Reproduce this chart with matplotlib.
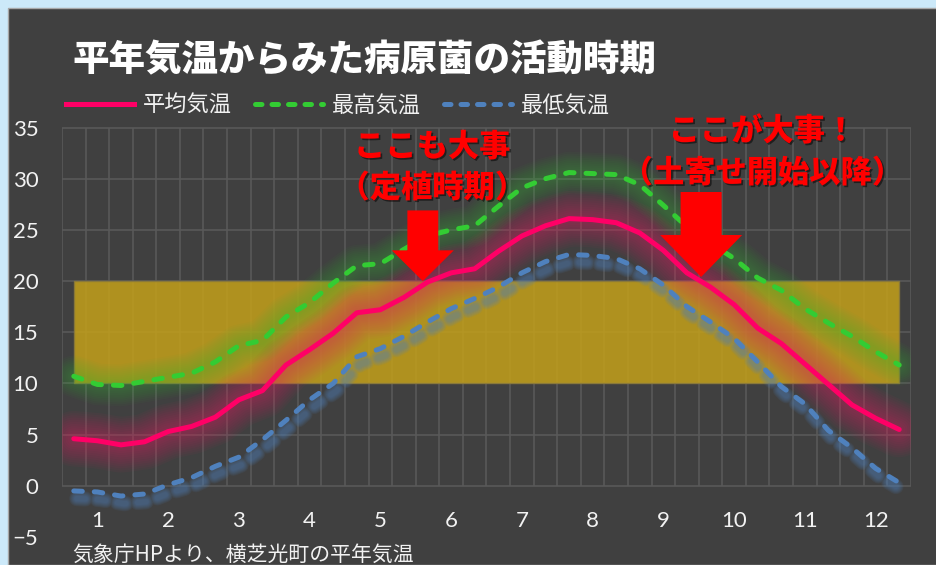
import matplotlib
matplotlib.use('Agg')
import matplotlib.pyplot as plt
import matplotlib.patches as mpatches
import matplotlib.patheffects as pe
from matplotlib.lines import Line2D
from matplotlib import transforms
import numpy as np

plt.rcParams['font.family'] = ['Noto Sans CJK JP', 'DejaVu Sans']

# 旬ごとの平年気温 (1月上旬 ～ 12月下旬, 36点)
avg_temp = [4.6, 4.4, 4.0, 4.3, 5.3, 5.8, 6.7, 8.4, 9.3, 11.8, 13.3, 14.9,
            16.9, 17.2, 18.4, 19.9, 20.8, 21.2, 22.9, 24.4, 25.4, 26.1, 26.0, 25.7,
            24.7, 23.0, 20.8, 19.4, 17.7, 15.4, 13.9, 11.9, 9.9, 7.9, 6.6, 5.5]
max_temp = [10.7, 9.9, 9.8, 10.2, 10.6, 11.0, 12.1, 13.7, 14.2, 16.5, 17.9, 19.8,
            21.5, 21.7, 23.1, 24.4, 25.0, 25.4, 27.3, 29.1, 30.0, 30.6, 30.5, 30.4,
            29.4, 27.4, 25.3, 23.7, 22.2, 20.3, 19.1, 17.3, 15.9, 14.6, 13.1, 11.8]
min_temp = [-0.5, -0.6, -1.0, -0.8, 0.1, 0.8, 1.9, 2.8, 4.5, 6.4, 8.4, 10.0,
            12.6, 13.4, 14.6, 16.0, 17.3, 18.3, 19.4, 20.8, 21.9, 22.6, 22.5, 22.2,
            21.2, 19.6, 17.5, 16.0, 14.4, 12.1, 9.7, 8.0, 5.4, 3.7, 1.7, 0.3]
months = [str(m) for m in range(1, 13)]
band_low, band_high = 10, 20   # 病原菌の活動しやすい温度帯
y_ticks = [-5, 0, 5, 10, 15, 20, 25, 30, 35]

x = np.arange(len(avg_temp))

c_avg = '#FF0066'
c_max = '#33CC33'
c_min = '#4F81BD'
bg = '#404040'
grid_c = '#595959'

fig = plt.figure(figsize=(9.37, 5.65), dpi=100)
fig.patch.set_facecolor('#CCE9F9')
fig.patches.append(mpatches.Rectangle((8 / 937, 0), 1, 1 - 8 / 565,
                                      transform=fig.transFigure, zorder=-5,
                                      facecolor=bg, edgecolor='#A8A8A8', lw=1))

ax = fig.add_axes([62 / 937, 1 - 537 / 565, (911 - 62) / 937, (537 - 127.5) / 565])
ax.set_facecolor('none')
ax.set_xlim(-0.5, 35.5)
ax.set_ylim(-5, 35)
for s in ax.spines.values():
    s.set_visible(False)

# grid (plot area only from 0 to 35)
ax.hlines(y_ticks[1:], -0.5, 35.5, color=grid_c, lw=1.2, zorder=0)
ax.vlines(np.arange(-0.5, 36), 0, 35, color=grid_c, lw=1.2, zorder=0)

# temperature band
ax.fill_between([x[0], x[-1]], band_low, band_high, color='#C4A01A', alpha=0.85,
                edgecolor='#8C7A3A', lw=1, zorder=1)


def glow(xs, ys, color, widths, alpha, trans=None, dashed=False):
    for w in widths:
        kw = {}
        if dashed:
            kw['dashes'] = (6.1 / w, 8.6 / w)
        ax.plot(xs, ys, color=color, lw=w, alpha=alpha, solid_capstyle='round',
                dash_capstyle='round', transform=trans or ax.transData, zorder=2, **kw)


glow(x, avg_temp, '#E8206A', np.linspace(40, 6, 12), 0.045)
glow(x, max_temp, '#3AB83A', np.linspace(30, 6, 10), 0.04)
shadow = transforms.offset_copy(ax.transData, fig=fig, x=2.2, y=-5.5, units='points')
glow(x, min_temp, c_min, np.linspace(11, 4, 6), 0.1, trans=shadow, dashed=True)

ax.plot(x, avg_temp, color=c_avg, lw=3.6, solid_capstyle='round', zorder=3)
ax.plot(x, max_temp, color=c_max, lw=3.6, dashes=(1.7, 2.4),
        dash_capstyle='round', zorder=3)
ax.plot(x, min_temp, color=c_min, lw=3.6, dashes=(1.7, 2.4),
        dash_capstyle='round', zorder=3)

# ticks
ax.set_yticks(y_ticks)
ax.set_xticks(np.arange(12) * 3 + 1)
ax.set_xticklabels(months)
ax.tick_params(axis='y', length=0, pad=17, labelsize=16, labelcolor='#F2F2F2')
ax.tick_params(axis='x', length=0, pad=-19, labelsize=16, labelcolor='#F2F2F2')
for lab in ax.get_xticklabels() + ax.get_yticklabels():
    lab.set_family(['Lato', 'DejaVu Sans'])

# arrows and callouts
ax.add_patch(mpatches.FancyArrow(14.8, 26.9, 0, -6.9, width=1.31, head_width=2.63,
                                 head_length=3.0, length_includes_head=True,
                                 color='#FF0000', lw=0, zorder=4, clip_on=False))
ax.add_patch(mpatches.FancyArrow(26.6, 28.7, 0, -8.3, width=1.74, head_width=3.48,
                                 head_length=4.1, length_includes_head=True,
                                 color='#FF0000', lw=0, zorder=4, clip_on=False))

shadow_fx = [pe.withSimplePatchShadow(offset=(1.2, -1.2), shadow_rgbFace='black', alpha=0.5)]
callouts = [(15.2, 33.1, 'ここも大事'), (15.2, 29.1, '（定植時期）'),
            (29.2, 34.65, 'ここが大事！'), (29.2, 30.55, '（土寄せ開始以降）')]
for cx, cy, t in callouts:
    ax.text(cx, cy, t, color='#FF0000', fontsize=22.5, fontweight='heavy', ha='center',
            va='center', zorder=5, clip_on=False, path_effects=shadow_fx)

# title, legend, note
fig.text(72 / 937, 1 - 60 / 565, '平年気温からみた病原菌の活動時期', color='white',
         fontsize=26.3, fontweight='heavy', va='center')

handles = [Line2D([], [], color=c_avg, lw=3.6),
           Line2D([], [], color=c_max, lw=3.6, dashes=(1.3, 2.0), dash_capstyle='round'),
           Line2D([], [], color=c_min, lw=3.6, dashes=(1.3, 2.0), dash_capstyle='round')]
leg = fig.legend(handles, ['平均気温', '最高気温', '最低気温'], loc='center left',
                 bbox_to_anchor=(66 / 937, 1 - 105 / 565), ncol=3, frameon=False,
                 fontsize=16, handlelength=3.05, handletextpad=0.4, columnspacing=1.05,
                 borderpad=0, borderaxespad=0)
for t in leg.get_texts():
    t.set_color('#F2F2F2')

fig.text(72 / 937, 1 - 555 / 565, '気象庁HPより、横芝光町の平年気温', color='#F2F2F2',
         fontsize=15, va='center')

fig.savefig('out.png', dpi=100, facecolor=fig.get_facecolor())
